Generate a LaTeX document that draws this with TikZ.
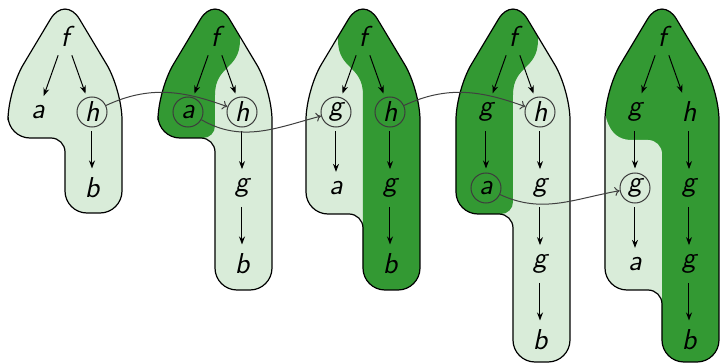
\documentclass[tikz,border=0pt]{standalone}
\usepackage{fontspec}
\usetikzlibrary{arrows.meta}
\definecolor{lightg}{RGB}{217,236,217}
\definecolor{darkg}{RGB}{51,153,51}
\definecolor{circc}{RGB}{60,60,60}
\newcommand\hullpath[3]{%
 [rounded corners=15pt] (#1+57,150) -- (#1+57,90)
 [rounded corners=14pt] -- (#1,-5) [rounded corners=15pt] -- (#1-57,90)
 [rounded corners=11pt] -- (#1-57,#2) [rounded corners=7pt] -- (#1,#2)
 [rounded corners=11pt] -- (#1,#3) -- (#1+57,#3) -- cycle}
\tikzset{
 lab/.style={font=\fontsize{14.4}{17}\selectfont\sffamily\itshape, inner sep=2.5pt},
 circnode/.style={lab, circle, draw=circc, line width=0.5pt, minimum size=15pt, inner sep=0pt},
 tarr/.style={-{Stealth[length=4pt,width=3pt]}, line width=0.5pt, shorten <=2pt, shorten >=2pt},
 conn/.style={-{To[length=2.5pt,width=4.5pt]}, line width=0.5pt, draw=black!75},
 hull/.style={draw=black, line width=0.6pt},
}
\begin{document}
\begin{tikzpicture}[x=0.5pt,y=-0.5pt]
\useasboundingbox (0,0) rectangle (720,364);
% tree 1
\fill[lightg] \hullpath{65}{138}{213};
\draw[hull] \hullpath{65}{138}{213};
% tree 2
\fill[lightg] \hullpath{215}{138}{290};
\begin{scope}
\clip \hullpath{215}{138}{290};
\fill[darkg] (240,-30) -- (240,40) .. controls (240,70) and (215,65) .. (215,95) [rounded corners=6pt] -- (215,138) [sharp corners] -- (100,138) -- (100,-30) -- cycle;
\end{scope}
\draw[hull] \hullpath{215}{138}{290};
% tree 3
\fill[lightg] \hullpath{363}{214}{290};
\begin{scope}
\clip \hullpath{363}{214}{290};
\fill[darkg] (338,-30) -- (338,40) .. controls (338,70) and (363,65) .. (363,95) -- (363,400) -- (480,400) -- (480,-30) -- cycle;
\end{scope}
\draw[hull] \hullpath{363}{214}{290};
% tree 4
\fill[lightg] \hullpath{513}{214}{362};
\begin{scope}
\clip \hullpath{513}{214}{362};
\fill[darkg] (538,-30) -- (538,40) .. controls (538,70) and (513,65) .. (513,95) [rounded corners=6pt] -- (513,214) [sharp corners] -- (400,214) -- (400,-30) -- cycle;
\end{scope}
\draw[hull] \hullpath{513}{214}{362};
% tree 5
\fill[darkg] \hullpath{662}{290}{362};
\begin{scope}
\clip \hullpath{662}{290}{362};
\fill[lightg] (560,60) -- (602,60) -- (602,90) .. controls (604,125) and (612,140) .. (632,140) [rounded corners=7pt] -- (662,140) [sharp corners] -- (662,400) -- (560,400) -- cycle;
\end{scope}
\draw[hull] \hullpath{662}{290}{362};

% nodes tree 1
\node[lab] (t1f) at (65,36) {f};
\node[lab] (t1a) at (38,112) {a};
\node[circnode] (t1h) at (92,112) {h};
\node[lab] (t1b) at (92,188) {b};
\draw[tarr] (t1f) -- (t1a);
\draw[tarr] (t1f) -- (t1h);
\draw[tarr] (t1h) -- (t1b);
% tree 2
\node[lab] (t2f) at (215,36) {f};
\node[circnode] (t2a) at (188,112) {a};
\node[circnode] (t2h) at (242,112) {h};
\node[lab] (t2g) at (242,188) {g};
\node[lab] (t2b) at (242,264) {b};
\draw[tarr] (t2f) -- (t2a);
\draw[tarr] (t2f) -- (t2h);
\draw[tarr] (t2h) -- (t2g);
\draw[tarr] (t2g) -- (t2b);
% tree 3
\node[lab] (t3f) at (363,36) {f};
\node[circnode] (t3g) at (336,112) {g};
\node[circnode] (t3h) at (390,112) {h};
\node[lab] (t3a) at (336,188) {a};
\node[lab] (t3g2) at (390,188) {g};
\node[lab] (t3b) at (390,264) {b};
\draw[tarr] (t3f) -- (t3g);
\draw[tarr] (t3f) -- (t3h);
\draw[tarr] (t3g) -- (t3a);
\draw[tarr] (t3h) -- (t3g2);
\draw[tarr] (t3g2) -- (t3b);
% tree 4
\node[lab] (t4f) at (513,36) {f};
\node[lab] (t4g) at (486,112) {g};
\node[circnode] (t4h) at (540,112) {h};
\node[circnode] (t4a) at (486,188) {a};
\node[lab] (t4g2) at (540,188) {g};
\node[lab] (t4g3) at (540,264) {g};
\node[lab] (t4b) at (540,340) {b};
\draw[tarr] (t4f) -- (t4g);
\draw[tarr] (t4f) -- (t4h);
\draw[tarr] (t4g) -- (t4a);
\draw[tarr] (t4h) -- (t4g2);
\draw[tarr] (t4g2) -- (t4g3);
\draw[tarr] (t4g3) -- (t4b);
% tree 5
\node[lab] (t5f) at (662,36) {f};
\node[lab] (t5g) at (635,112) {g};
\node[lab] (t5h) at (689,112) {h};
\node[circnode] (t5g2) at (635,188) {g};
\node[lab] (t5g3) at (689,188) {g};
\node[lab] (t5a) at (635,264) {a};
\node[lab] (t5g4) at (689,264) {g};
\node[lab] (t5b) at (689,340) {b};
\draw[tarr] (t5f) -- (t5g);
\draw[tarr] (t5f) -- (t5h);
\draw[tarr] (t5g) -- (t5g2);
\draw[tarr] (t5g2) -- (t5a);
\draw[tarr] (t5h) -- (t5g3);
\draw[tarr] (t5g3) -- (t5g4);
\draw[tarr] (t5g4) -- (t5b);
% connectors
\draw[conn] (t1h) to[out=25,in=160] (t2h);
\draw[conn] (t2a) to[out=-30,in=195] (t3g);
\draw[conn] (t3h) to[out=25,in=160] (t4h);
\draw[conn] (t4a) to[out=-25,in=190] (t5g2);
\end{tikzpicture}
\end{document}
